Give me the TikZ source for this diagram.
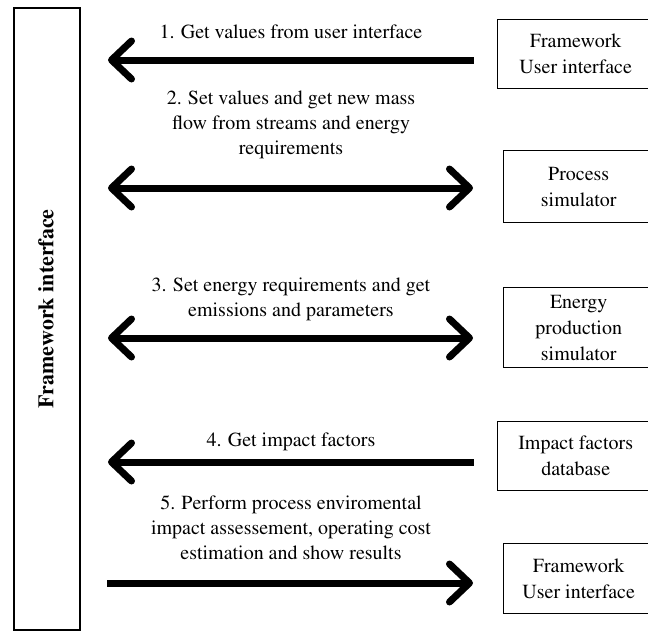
\documentclass[tikz,border=0pt]{standalone}
\usepackage[T1]{fontenc}
\usepackage{mathptmx}
\usepackage{tikz}
\usetikzlibrary{arrows.meta,positioning}

\begin{document}
\begin{tikzpicture}[x=1pt,y=-1pt,
		>={Straight Barb[length=20pt,width=38pt,round]},
		box/.style={draw, line width=1.4pt, anchor=north west, align=center, font=\fontsize{20}{26}\selectfont},
		lbl/.style={align=center, inner sep=0pt, font=\fontsize{20}{25}\selectfont},
		flow/.style={line width=7pt}]
		\useasboundingbox (0,0) rectangle (648,630);

		% framework interface column
		\node[draw, line width=2pt, anchor=north west, minimum width=66pt, minimum height=622pt] (fwi) at (13,7) {};
		\node[rotate=90, font=\fontsize{22}{24}\selectfont\bfseries] (fwitext) at (46,309) {Framework interface};

		% boxes on the right
		\node[box, minimum width=156pt, minimum height=69pt] (ui1) at (497,19) {Framework\\User interface};
		\node[box, minimum width=150pt, minimum height=72pt] (proc) at (503,150) {Process\\simulator};
		\node[box, minimum width=150pt, minimum height=80pt] (energy) at (503,287) {Energy\\production\\simulator};
		\node[box, minimum width=156pt, minimum height=69pt] (impact) at (497,421) {Impact factors\\database};
		\node[box, minimum width=150pt, minimum height=70pt] (ui2) at (503,543) {Framework\\User interface};

		% arrow ends
		\coordinate (l1) at (108,60);  \coordinate (r1) at (474,60);
		\coordinate (l2) at (108,188); \coordinate (r2) at (473,188);
		\coordinate (l3) at (108,338); \coordinate (r3) at (473,338);
		\coordinate (l4) at (108,462); \coordinate (r4) at (474,462);
		\coordinate (l5) at (107,583); \coordinate (r5) at (473,583);

		\draw[flow,<-] (l1) -- (r1);
		\draw[flow,<->] (l2) -- (r2);
		\draw[flow,<->] (l3) -- (r3);
		\draw[flow,<-] (l4) -- (r4);
		\draw[flow,->] (l5) -- (r5);

		\node[lbl] (t1) at (291,32) {1. Get values from user interface};
		\node[lbl] (t2) at (291,125) {2. Set values and get new mass\\flow from streams and energy\\requirements};
		\node[lbl] (t3) at (291,299) {3. Set energy requirements and get\\emissions and parameters};
		\node[lbl] (t4) at (291,442) {4. Get impact factors};
		\node[lbl] (t5) at (291,528) {5. Perform process enviromental\\impact assessement, operating cost\\estimation and show results};
	\end{tikzpicture}
\end{document}
